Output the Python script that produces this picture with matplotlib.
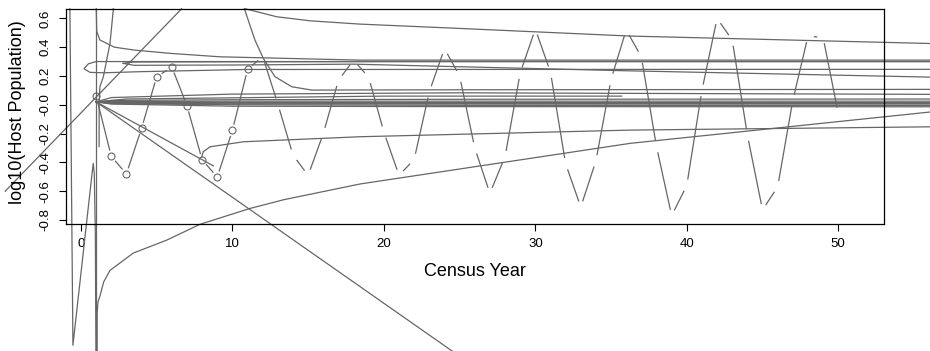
import numpy as np
import matplotlib
matplotlib.use("Agg")
import matplotlib.pyplot as plt

plt.rcParams['font.family'] = ['Liberation Sans', 'DejaVu Sans']

# observed census series, log10 host population, years 1-50
years = np.arange(1, 51)
host = [0.063, -0.358, -0.48, -0.164, 0.194, 0.262, -0.007, -0.382, -0.502, -0.178,
        0.246, 0.335, 0.005, -0.35, -0.49, -0.20, 0.17, 0.31, 0.19, -0.19,
        -0.49, -0.38, 0.09, 0.39, 0.20, -0.30, -0.615, -0.36, 0.22, 0.526,
        0.227, -0.41, -0.71, -0.39, 0.176, 0.52, 0.333, -0.29, -0.77, -0.56,
        0.10, 0.60, 0.45, -0.21, -0.73, -0.57, 0.03, 0.475, 0.468, -0.06]
n_marked = 11  # first years drawn with open circles

# fitted trajectories (x, y)
fall_x = [10.79, 11.49, 12.04, 12.81, 13.92, 15.24, 25, 57]
fall_y = [0.667, 0.449, 0.322, 0.195, 0.125, 0.102, 0.104, 0.107]

top_x = [10.83, 12.93, 15.13, 18.43, 24.37, 36.26, 57]
top_y = [0.667, 0.611, 0.583, 0.56, 0.533, 0.477, 0.423]

asym_x = [1.01, 1.04, 1.25, 2.2, 3.5, 5.88, 9.18, 18.4, 57]
asym_y = [0.667, 0.51, 0.45, 0.40, 0.38, 0.357, 0.333, 0.31, 0.31]

hairpin_x = [57, 20, 3, 1.0, 0.5, 0.2, 0.6, 1.5, 4, 11, 57]
hairpin_y = [0.30, 0.30, 0.30, 0.30, 0.285, 0.25, 0.225, 0.222, 0.23, 0.245, 0.246]

loop_x = [57, 20, 8, 3.5, 2.75, 3.5, 10, 18, 36, 57]
loop_y = [0.30, 0.30, 0.298, 0.297, 0.288, 0.274, 0.276, 0.282, 0.236, 0.19]

steep_x = [2.14, 1.92, 1.48, 1.25, 1.2, 1.2]
steep_y = [0.667, 0.427, 0.195, 0.125, 0.0, -0.29]

spike_x = [-0.73, -0.53, 0.72, 0.81, 0.88, 0.95, 0.99]
spike_y = [0.667, -1.67, -0.49, -0.407, -0.48, -0.9, -1.72]

vert_x = [0.98, 0.98]
vert_y = [0.667, -1.72]

logc_x = [1.07, 1.07, 1.12, 1.25, 1.5, 1.92, 3.45, 5.66, 7.86, 11.16, 13.36, 18.43, 36.26, 57]
logc_y = [-1.72, -1.45, -1.37, -1.33, -1.23, -1.15, -1.03, -0.94, -0.83, -0.72, -0.66, -0.55, -0.268, -0.04]

rise_x = [-5.0, 6.65]
rise_y = [-0.60, 0.667]

drop_x = [1, 26]
drop_y = [0.02, -1.82]

short_x = [1, 8.74]
short_y = [0.02, -0.424]

dip_x = [7.97, 8.08, 8.52, 10.72, 18.43, 36.26, 57]
dip_y = [-0.361, -0.326, -0.292, -0.257, -0.222, -0.176, -0.152]

# bundle of near-flat runs from year 1
flat_x = [1, 2, 10, 25, 57]
flat_runs = [[0.02, 0.05, 0.074, 0.083, 0.072],
             [0.02, 0.03, 0.035, 0.038, 0.04],
             [0.02, 0.022, 0.025, 0.025, 0.025],
             [0.02, 0.018, 0.016, 0.015, 0.015],
             [0.02, 0.015, 0.011, 0.01, 0.01],
             [0.02, 0.012, 0.006, 0.005, 0.005],
             [0.02, 0.008, 0.0, -0.004, -0.005],
             [0.02, 0.005, -0.01, -0.013, -0.014]]
part_x = [1, 3, 20, 35.7]
part_y = [0.02, 0.04, 0.06, 0.06]

col = '#666666'
lw = 0.9

fig = plt.figure(figsize=(9.3, 3.51), dpi=100)
ax = fig.add_axes([0.0706, 0.3618, 0.8796, 0.6134])
ax.set_xlim(-1.01, 53.0)
ax.set_ylim(-0.828, 0.667)


def type_b(ax, x, y, gap=6.5, **kw):
    # R style type="b": segments stop short of every vertex
    pts = ax.transData.transform(np.column_stack([x, y]))
    inv = ax.transData.inverted()
    for p0, p1 in zip(pts[:-1], pts[1:]):
        d = p1 - p0
        L = np.hypot(d[0], d[1])
        if L <= 2 * gap:
            continue
        u = d / L
        seg = inv.transform(np.array([p0 + u * gap, p1 - u * gap]))
        ax.plot(seg[:, 0], seg[:, 1], **kw)


curves = [(fall_x, fall_y), (top_x, top_y), (asym_x, asym_y),
          (hairpin_x, hairpin_y), (loop_x, loop_y), (steep_x, steep_y),
          (spike_x, spike_y), (vert_x, vert_y), (logc_x, logc_y),
          (rise_x, rise_y), (drop_x, drop_y), (short_x, short_y),
          (dip_x, dip_y), (part_x, part_y)]
curves += [(flat_x, r) for r in flat_runs]

for cx, cy in curves:
    ax.plot(cx, cy, color=col, lw=lw, clip_on=False)

type_b(ax, years, host, color=col, lw=lw, clip_on=False)
ax.plot(years[:n_marked], host[:n_marked], 'o', ms=5, mfc='none', mec=col,
        mew=0.8, clip_on=False)

ax.set_xticks([0, 10, 20, 30, 40, 50])
ax.set_yticks(np.round(np.arange(-0.8, 0.61, 0.2), 1))
ax.set_yticklabels(['%.1f' % v for v in np.round(np.arange(-0.8, 0.61, 0.2), 1)],
                   rotation=90, va='center')
ax.tick_params(direction='out', length=5, width=0.8, labelsize=9.5, pad=5)
for s in ax.spines.values():
    s.set_linewidth(0.9)

fig.text(475 / 930, 1 - 271 / 351, 'Census Year', ha='center', va='center', fontsize=13)
fig.text(17 / 930, 1 - 112 / 351, 'log10(Host Population)', ha='center', va='center',
         rotation=90, fontsize=13)

fig.savefig('out.png', dpi=100, facecolor='white')
